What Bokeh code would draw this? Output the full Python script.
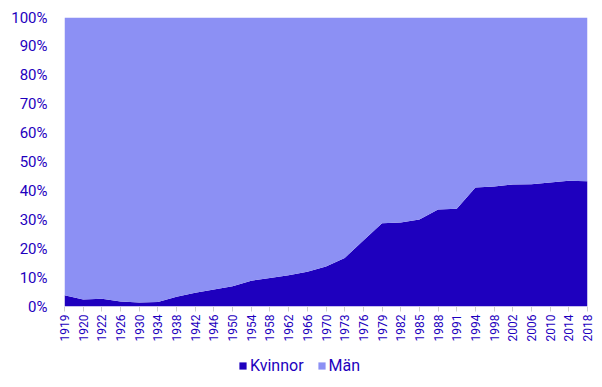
import math
from bokeh.plotting import figure
from bokeh.layouts import column
from bokeh.models import FixedTicker, Range1d, Legend, LegendItem, ColumnDataSource
from bokeh.embed import file_html
from bokeh.resources import INLINE

years = ["1919", "1920", "1922", "1926", "1930", "1934", "1938", "1942", "1946", "1950",
         "1954", "1958", "1962", "1966", "1970", "1973", "1976", "1979", "1982", "1985",
         "1988", "1991", "1994", "1998", "2002", "2006", "2010", "2014", "2018"]
kvinnor = [3.9, 2.4, 2.7, 1.7, 1.4, 1.6, 3.4, 4.8, 5.9, 7.0,
           8.9, 9.9, 10.8, 12.0, 13.8, 16.8, 22.8, 28.8, 29.1, 30.1,
           33.6, 33.8, 41.2, 41.5, 42.2, 42.3, 42.9, 43.5, 43.3]
man = [100 - k for k in kvinnor]
y_ticks = [0, 10, 20, 30, 40, 50, 60, 70, 80, 90, 100]
series_names = ["Kvinnor", "Män"]

DARK = "#1e00be"
LIGHT = "#8c90f4"
TXT = "#1e00be"

idx = list(range(len(years)))
src = ColumnDataSource(dict(x=idx, k=kvinnor,
                            top=[k + m for k, m in zip(kvinnor, man)]))

p = figure(width=602, height=346, output_backend="svg", toolbar_location=None,
           x_range=Range1d(0, len(years) - 1), y_range=Range1d(0, 100))
p.min_border_left = 64
p.min_border_right = 15
p.min_border_top = 17
p.min_border_bottom = 40
p.outline_line_color = None
p.background_fill_color = "white"

r_k = p.varea(x="x", y1=0, y2="k", source=src, fill_color=DARK)
r_m = p.varea(x="x", y1="k", y2="top", source=src, fill_color=LIGHT)

p.xaxis.ticker = FixedTicker(ticks=idx)
p.xaxis.major_label_overrides = {i: y for i, y in enumerate(years)}
p.xaxis.major_label_orientation = math.pi / 2
p.xaxis.major_label_text_color = TXT
p.xaxis.major_label_text_font = "Roboto"
p.xaxis.major_label_text_font_size = "12px"
p.xaxis.axis_line_color = None
p.xaxis.major_tick_line_color = "#cccccc"
p.xaxis.major_tick_in = 0
p.xaxis.major_tick_out = 5
p.xaxis.minor_tick_line_color = None
p.xaxis.major_label_standoff = 3

p.yaxis.ticker = FixedTicker(ticks=y_ticks)
p.yaxis.major_label_overrides = {t: f"{t}%" for t in y_ticks}
p.yaxis.major_label_text_color = TXT
p.yaxis.major_label_text_font = "Roboto"
p.yaxis.major_label_text_font_size = "15px"
p.yaxis.axis_line_color = None
p.yaxis.major_tick_line_color = None
p.yaxis.major_tick_in = 0
p.yaxis.major_tick_out = 0
p.yaxis.minor_tick_line_color = None
p.yaxis.major_label_standoff = 17

p.xgrid.grid_line_color = None
p.ygrid.grid_line_color = "#dddddd"
p.ygrid.level = "overlay"
p.ygrid.ticker = FixedTicker(ticks=[100])

# separate strip for the legend below the chart; its swatch renderers sit
# outside the strip's visible range so only the legend itself shows
lf = figure(width=602, height=41, output_backend="svg", toolbar_location=None,
            x_range=Range1d(0, 1), y_range=Range1d(0, 1),
            x_axis_type=None, y_axis_type=None, min_border=0)
lf.outline_line_color = None
lf.xgrid.grid_line_color = None
lf.ygrid.grid_line_color = None
off = ColumnDataSource(dict(x=[5, 6], y1=[5, 5], y2=[6, 6]))
lk = lf.varea(x="x", y1="y1", y2="y2", source=off, fill_color=DARK)
lm = lf.varea(x="x", y1="y1", y2="y2", source=off, fill_color=LIGHT)

legend = Legend(items=[LegendItem(label=series_names[0], renderers=[lk]),
                       LegendItem(label=series_names[1], renderers=[lm])],
                orientation="horizontal", location=(174, 12))
legend.label_text_font = "Roboto"
legend.label_text_font_size = "16px"
legend.label_text_color = TXT
legend.glyph_width = 9
legend.glyph_height = 9
legend.label_standoff = 3
legend.spacing = 13
legend.border_line_color = None
legend.background_fill_alpha = 0
legend.margin = 0
legend.padding = 4
lf.add_layout(legend, "center")

layout = column(p, lf, spacing=0)
open("out.html", "w").write(file_html(layout, INLINE))
